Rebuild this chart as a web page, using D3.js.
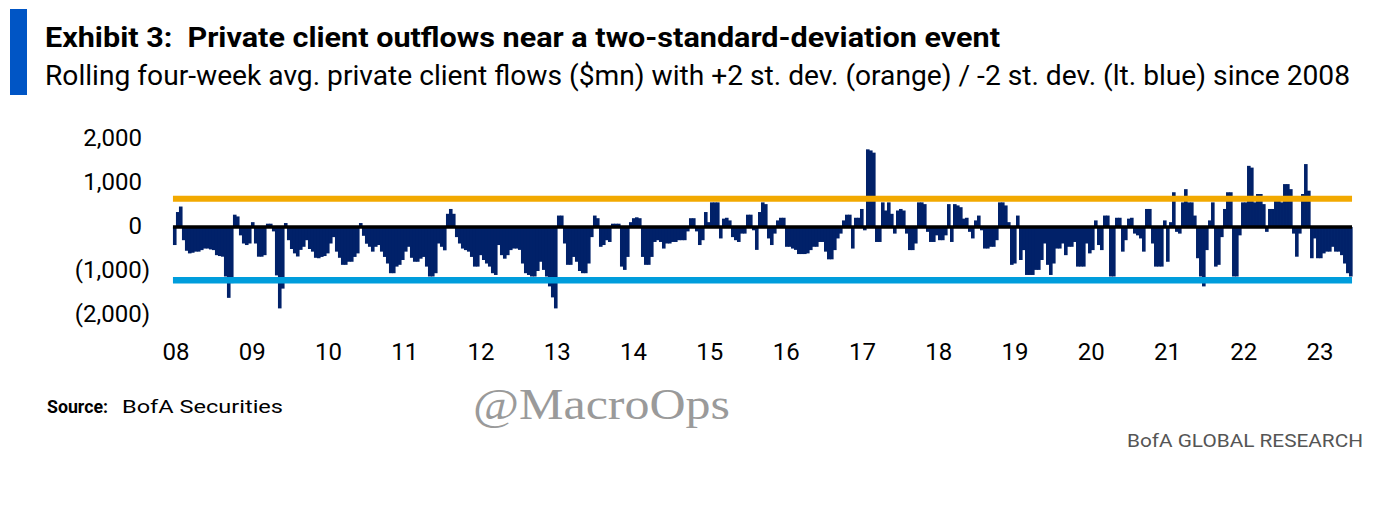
<!DOCTYPE html>
<html>
<head>
<meta charset="utf-8">
<script src="https://cdn.jsdelivr.net/npm/d3@7"></script>
<style>
  body { margin: 0; background: #fff; }
  text { font-family: Roboto, "Noto Sans", sans-serif; }
</style>
</head>
<body>
<script>
// Rolling four-week avg. private client flows ($mn) in ~2-week steps from Jan 2008
const flows = [
  // 2008
  -410, 340, 465, -300, -540, -600, -585, -560, -560, -525, -490, -490, -510, -525, -640, -660, -675, -1125, -1610, -1275, 280, 240, -190, -375, -410, -375, 110, -375, -675,
  // 2009
  -675, -640, 75, 75, -100, -1100, -1850, -1400, 90, -300, -500, -600, -670, -520, -450, -300, -500, -560, -700, -710, -680, -660, -600, -375, -230, -560, -700, -860, -860, -790, -790, -680, -600, 90,
  // 2010 - 2011
  -200, -380, -450, -560, -450, -410, -560, -680, -830, -1050, -1050, -900, -860, -750, -560, -450, -700, -790, -790, -720, -680, -900, -1125, -1125, -1050, -375, -450, -530, 300, 410, 300, -230, -375,
  -490, -525, -560, -680, -900, -900, -640, -750, -830, -900, -1050, -1090, -410, -640, -720, -640, -525, -490, -490, -520, -830, -1050, -1090, -1125, -1125, -1000, -790, -975, -1125, -1350, -1600, -1850, 260,
  // 2013 - 2014
  260, -375, -860, -860, -680, -790, -1000, -1050, -1050, -830, -230, 260, 200, -450, -410, -300, -340, 75, 75, 75, -900, -975, -680, 110, 200, 220, 200, -680, -860, -860, -680, -340, -300, -340,
  -490, -375, -375, -340, -340, -300, -300, -300, -100, 200, 200, -100, -410, -300, 340, 110, 560, 560, 560, -260, 190, 210, 150, -230, -300, -340, -150, -150, 280, 280, -75, -520, 340,
  // 2015 - 2016
  560, 520, -260, -410, -150, 150, 210, 210, -450, -450, -490, -520, -615, -615, -615, -600, -525, -450, -450, -340, -340, -560, -735, -735, -525, -260, -150, 150, 280, 280, -490, 210, 210,
  410, -75, 1765, 1740, 1690, -340, -340, 560, 375, 560, 300, -150, 375, 410, 375, -150, -525, -525, -375, 560, 560, 520, -110, -340, -340, -190, -300, -300, -190, 520, -340, 520, 490, 450,
  // 2018 - 2019
  190, 210, -110, -260, 150, 260, -75, -490, -490, -450, -450, -300, 560, 560, 490, 110, -860, -830, 260, -750, -525, -1090, -1090, -1090, -975, -975, -750, -375, -860, -1090, -830, -490, -490,
  -375, -640, -450, -450, -340, -900, -900, -900, -375, -600, -525, 150, -410, -525, 260, 260, -1125, -1125, 210, 210, -560, -300, 190, 210, -150, -190, -260, -560, 410, 410, -375, -900, -900,
  // 2021 - 2023
  -900, 150, -790, 110, 790, -110, -150, 560, 860, 560, 560, 260, -710, -1125, -1350, -525, 150, 560, -900, -860, -230, 410, 790, 790, -1125, -1125, -190, 560, 560, 1390, 1350, 560, 750, 750,
  520, -110, 410, 410, 640, 640, 560, 975, 975, 860, -150, -675, -150, 750, 1430, 825, -710, -260, -710, -710, -600, -560, -560, -450, -560, -560, -640, -830, -1050, -1125
];
const plusTwoSd = 640;     // +2 st. dev. (orange)
const minusTwoSd = -1210;  // -2 st. dev. (lt. blue)
const yearLabels = ["08", "09", "10", "11", "12", "13", "14", "15", "16", "17", "18", "19", "20", "21", "22", "23"];
const yTicks = [2000, 1000, 0, -1000, -2000];
const dataStart = 2007.96, dataEnd = 2023.42;

const width = 1398, height = 510;

const svg = d3.select("body").append("svg")
  .attr("width", width)
  .attr("height", height);

const x = d3.scaleLinear().domain([2008, 2023]).range([176, 1320]);
const y = d3.scaleLinear().domain([-2000, 2000]).range([315, 139]);

// Header
svg.append("rect")
  .attr("x", 10).attr("y", 9).attr("width", 17).attr("height", 86)
  .attr("fill", "#0055c5");

svg.append("text")
  .attr("x", 45).attr("y", 47)
  .attr("font-size", 28).attr("font-weight", "bold")
  .attr("fill", "#000")
  .attr("textLength", 955).attr("lengthAdjust", "spacingAndGlyphs")
  .style("white-space", "pre")
  .text("Exhibit 3:  Private client outflows near a two-standard-deviation event");

svg.append("text")
  .attr("x", 45).attr("y", 85)
  .attr("font-size", 28)
  .attr("fill", "#000")
  .attr("textLength", 1305).attr("lengthAdjust", "spacingAndGlyphs")
  .text("Rolling four-week avg. private client flows ($mn) with +2 st. dev. (orange) / -2 st. dev. (lt. blue) since 2008");

// Bars
const step = (dataEnd - dataStart) / flows.length;
svg.append("g")
  .selectAll("rect")
  .data(flows)
  .enter()
  .append("rect")
  .attr("x", (d, i) => x(dataStart + i * step))
  .attr("width", (d, i) => x(dataStart + (i + 1) * step) - x(dataStart + i * step) + 0.6)
  .attr("y", d => Math.min(y(d), y(0)))
  .attr("height", d => Math.abs(y(d) - y(0)))
  .attr("fill", "#012169");

// St. dev. lines and zero line on top of the bars
const x0 = x(dataStart), x1 = x(dataEnd);
svg.append("line")
  .attr("x1", x0).attr("x2", x1)
  .attr("y1", y(plusTwoSd)).attr("y2", y(plusTwoSd))
  .attr("stroke", "#f2a900").attr("stroke-width", 6);

svg.append("line")
  .attr("x1", x0).attr("x2", x1)
  .attr("y1", y(minusTwoSd)).attr("y2", y(minusTwoSd))
  .attr("stroke", "#009ddc").attr("stroke-width", 6.5);

svg.append("line")
  .attr("x1", x0).attr("x2", x1)
  .attr("y1", y(0)).attr("y2", y(0))
  .attr("stroke", "#000").attr("stroke-width", 3.5);

// Y axis labels (Excel-style: negatives in parentheses)
const fmt = d3.format(",");
svg.append("g")
  .selectAll("text")
  .data(yTicks)
  .enter()
  .append("text")
  .attr("x", d => d < 0 ? 150 : 142)
  .attr("y", d => y(d) + 7)
  .attr("text-anchor", "end")
  .attr("font-size", 24)
  .attr("fill", "#000")
  .text(d => d < 0 ? `(${fmt(-d)})` : fmt(d));

// X axis labels
svg.append("g")
  .selectAll("text")
  .data(yearLabels)
  .enter()
  .append("text")
  .attr("x", (d, i) => x(2008 + i))
  .attr("y", 360)
  .attr("text-anchor", "middle")
  .attr("font-size", 24)
  .attr("fill", "#000")
  .text(d => d);

// Footer
svg.append("text")
  .attr("x", 47).attr("y", 413)
  .attr("font-size", 19).attr("font-weight", "bold")
  .attr("textLength", 61).attr("lengthAdjust", "spacingAndGlyphs")
  .text("Source:");

svg.append("text")
  .attr("x", 122).attr("y", 413)
  .attr("font-size", 19)
  .attr("textLength", 161).attr("lengthAdjust", "spacingAndGlyphs")
  .text("BofA Securities");

svg.append("text")
  .attr("x", 473).attr("y", 419)
  .attr("font-size", 44)
  .attr("fill", "#9a9a9a")
  .attr("textLength", 257).attr("lengthAdjust", "spacingAndGlyphs")
  .style("font-family", "'Liberation Serif', 'DejaVu Serif', serif")
  .text("@MacroOps");

svg.append("text")
  .attr("x", 1363).attr("y", 447)
  .attr("text-anchor", "end")
  .attr("font-size", 19)
  .attr("fill", "#555")
  .attr("textLength", 236).attr("lengthAdjust", "spacingAndGlyphs")
  .text("BofA GLOBAL RESEARCH");
</script>
</body>
</html>
